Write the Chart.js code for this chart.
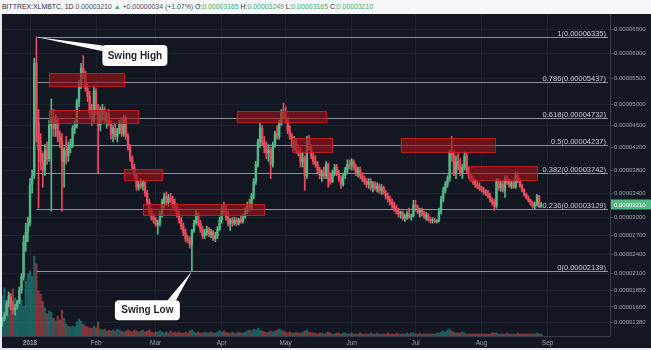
<!DOCTYPE html>
<html>
<head>
<meta charset="utf-8">
<script src="https://cdn.jsdelivr.net/npm/chart.js@4.4.1/dist/chart.umd.min.js"></script>
<style>
  html,body{margin:0;padding:0;background:#e6e9ee;}
  #wrap{position:relative;width:651px;height:350px;overflow:hidden;}
  #hdr{position:absolute;left:0;top:0;width:651px;height:14px;background:#f4f6f9;
       font:6.9px "Liberation Sans",Arial,sans-serif;line-height:14px;color:#50535e;
       padding-left:2px;box-sizing:border-box;white-space:nowrap;}
  #hdr .g{color:#3cb46a;}
  #hdr .k{color:#2a2e39;}
  canvas{position:absolute;left:0;top:0;}
</style>
</head>
<body>
<div id="wrap">
  <canvas id="c" width="651" height="350"></canvas>
  <div id="hdr"><span class="k">BITTREX:XLMBTC, 1D</span> 0.00003210 <span class="g">▲</span> +0.00000034 (+1.07%) <span class="k">O:</span><span class="g">0.00003165</span> <span class="k">H:</span><span class="g">0.00003249</span> <span class="k">L:</span><span class="g">0.00003165</span> <span class="k">C:</span><span class="g">0.00003210</span></div>
</div>
<script>
// ---------- DATA (prices in satoshi, i.e. units of 0.00000001 BTC) ----------
const START_DATE = '2017-12-19';   // first daily candle
const opens = [
  1380,1420,1490,1650,1760,1620,1560,1600,1680,1850,
  2050,2600,2750,2900,3550,3700,5800,4650,4150,3950,
  3800,4150,4000,4600,4750,4550,4700,4400,4300,3950,
  4150,4050,4200,4250,4550,4600,5050,5400,5700,5600,
  5300,5150,4850,4700,5250,4900,4600,4850,4900,4700,
  4800,4650,4450,4550,4400,4500,4650,4450,4750,4400,
  4200,4000,3850,3700,3500,3550,3520,3580,3400,3250,
  3100,3000,2950,2880,2900,3050,3250,3350,3250,3320,
  3300,3200,3150,3050,2950,2850,2750,2650,2620,2560,
  2780,2900,3050,2900,2800,2700,2750,2800,2720,2760,
  2650,2700,2800,2950,3150,3100,3000,2900,2950,2900,
  2950,2900,2960,2930,3000,3100,3200,3150,3350,3600,
  3900,4300,4550,4300,4200,4100,4150,3900,4250,4450,
  4400,4650,4850,4800,4700,4500,4400,4250,4300,4150,
  4100,3950,4000,3700,4300,4200,4050,3950,3900,3800,
  3700,3750,3700,3900,3650,3600,3750,3850,3750,3650,
  3550,3700,3800,3900,3880,3950,3850,3750,3800,3700,
  3650,3600,3550,3600,3500,3550,3480,3520,3450,3500,
  3400,3350,3300,3250,3200,3150,3100,3050,3080,2980,
  3000,3050,3000,3020,3200,3150,3080,3120,3050,3000,
  3030,2960,2940,2950,2930,2940,3100,3300,3450,3550,
  3650,4100,4050,3750,3950,3850,3750,3850,4050,3800,
  3700,3650,3600,3550,3520,3480,3450,3420,3400,3350,
  3280,3250,3180,3600,3500,3550,3450,3650,3600,3520,
  3580,3500,3700,3620,3520,3450,3380,3320,3280,3230,
  3180,3200,3350,3165
];
const highs = [
  1450,1520,1700,1820,1800,1680,1640,1700,1900,2100,
  2700,2900,3000,3650,3800,5900,6335,4900,4450,4100,
  4250,4300,4700,5100,4900,4800,4750,4500,4450,4200,
  4400,4300,4350,4600,4700,5100,5450,5800,5950,5650,
  5400,5250,5000,5350,5300,5000,4950,5000,4950,4850,
  4900,4700,4600,4650,4550,4700,4750,4800,4780,4450,
  4250,4050,3900,3750,3600,3650,3620,3600,3450,3300,
  3150,3050,3000,2950,3100,3300,3400,3420,3380,3400,
  3350,3300,3220,3100,3000,2900,2800,2700,2680,2800,
  2950,3120,3080,2950,2850,2800,2850,2830,2800,2780,
  2750,2850,3000,3200,3250,3200,3100,2980,3000,3000,
  2990,2980,3020,3050,3150,3250,3300,3400,3650,3950,
  4350,4650,4600,4400,4300,4250,4200,4300,4500,4600,
  4700,4900,5020,4950,4750,4600,4450,4400,4350,4250,
  4200,4100,4050,4400,4420,4250,4100,4050,3950,3850,
  3800,3850,3950,3920,3750,3800,3900,3900,3800,3700,
  3750,3850,3980,3980,4000,3980,3900,3850,3850,3750,
  3700,3650,3650,3650,3600,3600,3580,3560,3550,3520,
  3450,3400,3350,3300,3250,3200,3150,3100,3100,3050,
  3100,3150,3050,3280,3280,3200,3150,3150,3100,3080,
  3060,3000,2990,2980,2960,3150,3350,3500,3600,3700,
  4150,4400,4150,4050,4100,4000,3900,4120,4100,3850,
  3750,3700,3650,3600,3580,3520,3500,3460,3450,3400,
  3320,3300,3650,3650,3600,3600,3700,3700,3650,3600,
  3620,3760,3760,3650,3560,3480,3400,3350,3300,3260,
  3250,3380,3360,3249
];
const lows = [
  1320,1400,1470,1600,1560,1500,1480,1570,1650,1800,
  2000,2450,2600,2850,3400,3650,4300,3150,3800,3500,
  3700,3900,3950,3100,4400,4400,4300,4200,3100,3500,
  3900,3950,4100,4200,4450,4550,4950,5300,5500,5250,
  5050,4750,4600,4650,4800,3750,4500,4700,4650,4550,
  4600,4350,4300,4350,4300,4450,4400,4400,4350,4150,
  3950,3800,3650,3450,3450,3480,3450,3350,3200,3050,
  2950,2900,2850,2720,2850,3000,3150,3200,3180,3250,
  3150,3100,3000,2900,2800,2700,2600,2580,2500,2139,
  2750,2880,2850,2750,2650,2650,2700,2680,2660,2620,
  2600,2650,2780,2900,3050,2950,2850,2780,2850,2870,
  2860,2870,2900,2900,2980,3050,3100,3120,3300,3550,
  3850,4200,4250,4100,4000,3950,3650,3850,4200,4350,
  4350,4600,4750,4650,4450,4350,4200,4150,4100,4050,
  3850,3850,3450,3650,4150,4000,3900,3850,3750,3650,
  3600,3650,3650,3500,3550,3580,3700,3700,3600,3480,
  3520,3650,3750,3820,3800,3800,3700,3680,3650,3600,
  3550,3500,3480,3450,3420,3450,3420,3400,3380,3380,
  3300,3250,3200,3150,3100,3050,3000,2980,2950,2930,
  2960,2980,2950,3000,3100,3050,3000,3020,2980,2950,
  2930,2900,2900,2910,2900,2920,3050,3250,3400,3500,
  3600,3950,3700,3650,3800,3700,3650,3800,3750,3650,
  3600,3550,3500,3480,3450,3420,3380,3360,3320,3250,
  3200,3110,3150,3450,3430,3420,3330,3550,3500,3480,
  3480,3480,3580,3500,3420,3350,3300,3250,3200,3150,
  3140,3180,3160,3165
];
const closes = [
  1420,1490,1650,1760,1620,1560,1600,1680,1850,2050,
  2600,2750,2900,3550,3700,5800,4650,4150,3950,3800,
  4150,4000,4600,4750,4550,4700,4400,4300,3950,4150,
  4050,4200,4250,4550,4600,5050,5400,5700,5600,5300,
  5150,4850,4700,5250,4900,4600,4850,4900,4700,4800,
  4650,4450,4550,4400,4500,4650,4450,4750,4400,4200,
  4000,3850,3700,3500,3550,3520,3580,3400,3250,3100,
  3000,2950,2880,2900,3050,3250,3350,3250,3320,3300,
  3200,3150,3050,2950,2850,2750,2650,2620,2560,2780,
  2900,3050,2900,2800,2700,2750,2800,2720,2760,2650,
  2700,2800,2950,3150,3100,3000,2900,2950,2900,2950,
  2900,2960,2930,3000,3100,3200,3150,3350,3600,3900,
  4300,4550,4300,4200,4100,4150,3900,4250,4450,4400,
  4650,4850,4800,4700,4500,4400,4250,4300,4150,4100,
  3950,4000,3700,4300,4200,4050,3950,3900,3800,3700,
  3750,3700,3900,3650,3600,3750,3850,3750,3650,3550,
  3700,3800,3900,3880,3950,3850,3750,3800,3700,3650,
  3600,3550,3600,3500,3550,3480,3520,3450,3500,3400,
  3350,3300,3250,3200,3150,3100,3050,3080,2980,3000,
  3050,3000,3020,3200,3150,3080,3120,3050,3000,3030,
  2960,2940,2950,2930,2940,3100,3300,3450,3550,3650,
  4100,4050,3750,3950,3850,3750,3850,4050,3800,3700,
  3650,3600,3550,3520,3480,3450,3420,3400,3350,3280,
  3250,3180,3600,3500,3550,3450,3650,3600,3520,3580,
  3500,3700,3620,3520,3450,3380,3320,3280,3230,3180,
  3200,3350,3165,3210
];
const volumes = [   // relative daily volume
  40,48,35,44,30,47,38,32,45,36,
  30,55,62,65,60,80,72,45,42,35,
  28,22,25,24,18,15,20,16,26,18,
  12,10,9,10,9,14,17,15,12,10,
  9,8,8,10,8,14,7,6,7,5,
  6,5,6,5,7,6,5,4,5,6,
  5,4,6,5,4,5,6,4,5,6,
  4,3,4,4,5,4,3,4,3,5,
  3,4,3,4,3,3,4,3,5,6,
  4,3,4,3,3,4,3,3,4,3,
  3,4,5,4,5,4,3,3,4,3,
  3,4,3,3,4,5,6,5,7,6,
  8,6,5,4,3,4,5,4,5,6,
  7,6,5,4,3,4,3,3,4,3,
  3,4,5,6,4,3,3,3,2,3,
  3,2,3,4,3,2,2,3,3,2,
  3,3,2,2,3,2,2,2,3,2,
  2,2,2,3,2,2,3,2,2,2,
  2,3,2,2,2,3,2,2,2,2,
  3,2,3,3,2,2,3,2,2,2,
  2,2,2,2,3,3,4,5,4,6,
  7,5,4,3,3,3,4,3,2,2,
  2,2,2,2,2,2,2,2,2,2,
  3,3,3,2,2,2,2,3,2,2,
  2,2,3,2,2,2,2,2,2,2,
  2,3,2,2
];
const MONTH_DATES  = ['2018-01-01','2018-02-01','2018-03-01','2018-04-01','2018-05-01','2018-06-01','2018-07-01','2018-08-01','2018-09-01'];
const MONTH_LABELS = ['2018','Feb','Mar','Apr','May','Jun','Jul','Aug','Sep'];
const PRICE_TICKS  = [6500,6000,5500,5000,4600,4200,3800,3400,3000,2700,2400,2100,1850,1600,1380];
const FIB_RATIOS   = ['1','0.786','0.618','0.5','0.382','0.236','0'];
const FIB_PRICES   = [6335,5437,4732,4237,3742,3129,2139];
const SWING_HIGH_DATE = '2018-01-04';
const SWING_LOW_DATE  = '2018-03-18';
const ZONE_START = ['2018-01-10','2018-01-10','2018-02-14','2018-02-23','2018-04-08','2018-05-04','2018-06-24','2018-07-26'];
const ZONE_END   = ['2018-02-14','2018-02-21','2018-03-04','2018-04-21','2018-05-20','2018-05-23','2018-08-07','2018-08-27'];
const ZONE_LOW   = [5350,4645,3620,3030,4670,4115,4115,3620];
const ZONE_HIGH  = [5600,4890,3815,3215,4870,4370,4370,3866];
const LAST_PRICE = 3210;

// ---------- helpers ----------
const DAY_MS = 86400000;
const dayOf = s => Math.round((Date.parse(s) - Date.parse('2018-01-01')) / DAY_MS);
const day0 = dayOf(START_DATE);
const sat = v => (v / 1e8).toFixed(8);

const UP = '#53b987', DOWN = '#eb4d5c';
const UP_VOL = 'rgba(38,166,154,0.5)', DOWN_VOL = 'rgba(239,83,80,0.5)';
const isUp = i => closes[i] >= opens[i];

// price axis: TradingView-like compressed scale
const SHIFT = 10000;
class ShiftLogScale extends Chart.LinearScale {
  static id = 'shiftlog';
  static defaults = Chart.LinearScale.defaults;
  configure() {
    super.configure();
    this._la = Math.log(this.min + SHIFT);
    this._lb = Math.log(this.max + SHIFT);
  }
  getPixelForValue(v) {
    return this.getPixelForDecimal((Math.log(v + SHIFT) - this._la) / (this._lb - this._la));
  }
  getValueForPixel(p) {
    return Math.exp(this._la + this.getDecimalForPixel(p) * (this._lb - this._la)) - SHIFT;
  }
}
Chart.register(ShiftLogScale);

const wickData = [], bodyData = [], volData = [], bodyCol = [], volCol = [];
closes.forEach((c, i) => {
  const x = day0 + i;
  wickData.push({x, y: [lows[i], highs[i]]});
  bodyData.push({x, y: [opens[i], closes[i]]});
  volData.push({x, y: volumes[i]});
  bodyCol.push(isUp(i) ? UP : DOWN);
  volCol.push(isUp(i) ? UP_VOL : DOWN_VOL);
});

function roundRect(ctx, x, y, w, h, r) {
  ctx.beginPath();
  ctx.moveTo(x + r, y); ctx.lineTo(x + w - r, y); ctx.quadraticCurveTo(x + w, y, x + w, y + r);
  ctx.lineTo(x + w, y + h - r); ctx.quadraticCurveTo(x + w, y + h, x + w - r, y + h);
  ctx.lineTo(x + r, y + h); ctx.quadraticCurveTo(x, y + h, x, y + h - r);
  ctx.lineTo(x, y + r); ctx.quadraticCurveTo(x, y, x + r, y); ctx.closePath();
}

const overlay = {
  id: 'overlay',
  beforeDraw(chart) {
    const {ctx, width, height} = chart;
    ctx.save();
    ctx.fillStyle = '#e6e9ee'; ctx.fillRect(0, 0, width, height);
    ctx.fillStyle = '#131722'; ctx.fillRect(2, 14, width - 2, height - 16);
    ctx.restore();
  },
  beforeDatasetsDraw(chart) {
    const {ctx, chartArea, scales: {x, y}} = chart;
    const x0 = x.getPixelForValue(dayOf(SWING_HIGH_DATE));
    ctx.save();
    ctx.strokeStyle = 'rgba(165,168,178,0.85)'; ctx.lineWidth = 1;
    FIB_PRICES.forEach(p => {
      const py = Math.round(y.getPixelForValue(p)) + 0.5;
      ctx.beginPath(); ctx.moveTo(x0, py); ctx.lineTo(chartArea.right - 2, py); ctx.stroke();
    });
    ctx.restore();
  },
  afterDatasetsDraw(chart) {
    const {ctx, scales: {x, y}} = chart;
    ctx.save();
    ZONE_START.forEach((s, i) => {
      const xa = x.getPixelForValue(dayOf(s)), xb = x.getPixelForValue(dayOf(ZONE_END[i]));
      const ya = y.getPixelForValue(ZONE_HIGH[i]), yb = y.getPixelForValue(ZONE_LOW[i]);
      ctx.fillStyle = 'rgba(160,18,24,0.62)';
      ctx.fillRect(xa, ya, xb - xa, yb - ya);
      ctx.strokeStyle = 'rgba(200,32,36,0.9)'; ctx.lineWidth = 1;
      ctx.strokeRect(Math.round(xa) + 0.5, Math.round(ya) + 0.5, Math.round(xb - xa), Math.round(yb - ya));
    });
    ctx.restore();
  },
  afterDraw(chart) {
    const {ctx, chartArea, scales: {x, y}} = chart;
    ctx.save();
    // fib labels
    ctx.font = '7.5px "Liberation Sans", Arial, sans-serif';
    ctx.fillStyle = '#c9ccd4'; ctx.textAlign = 'right'; ctx.textBaseline = 'alphabetic';
    FIB_PRICES.forEach((p, i) => {
      const py = Math.round(y.getPixelForValue(p));
      ctx.fillText(FIB_RATIOS[i] + '(' + sat(p) + ')', chartArea.right - 4, py - 1);
    });
    // callouts
    const callout = (tx, ty, bx, by, bw, bh, wedge, label) => {
      ctx.fillStyle = '#ffffff';
      ctx.beginPath(); ctx.moveTo(tx, ty);
      ctx.lineTo(wedge[0], wedge[1]); ctx.lineTo(wedge[2], wedge[3]); ctx.closePath(); ctx.fill();
      ctx.shadowColor = 'rgba(0,0,0,0.4)'; ctx.shadowBlur = 3;
      roundRect(ctx, bx, by, bw, bh, 4); ctx.fill();
      ctx.shadowBlur = 0;
      ctx.fillStyle = '#1e222d'; ctx.font = 'bold 10px "Liberation Sans", Arial, sans-serif';
      ctx.textAlign = 'center'; ctx.textBaseline = 'middle';
      ctx.fillText(label, bx + bw / 2, by + bh / 2 + 0.5);
    };
    const hx = x.getPixelForValue(dayOf(SWING_HIGH_DATE)), hy = y.getPixelForValue(highs[dayOf(SWING_HIGH_DATE) - day0]);
    callout(hx, hy, hx + 66, hy + 8, 65, 21, [hx + 70, hy + 9, hx + 70, hy + 15], 'Swing High');
    const lx = x.getPixelForValue(dayOf(SWING_LOW_DATE)), ly = y.getPixelForValue(lows[dayOf(SWING_LOW_DATE) - day0]);
    callout(lx, ly, lx - 77, ly + 29, 65, 20, [lx - 26, ly + 31, lx - 17, ly + 31], 'Swing Low');
    // last price badge
    const by = y.getPixelForValue(LAST_PRICE);
    ctx.fillStyle = UP; ctx.fillRect(chartArea.right + 1, by - 5, 40, 10);
    ctx.fillStyle = '#ffffff'; ctx.font = '6px "Liberation Sans", Arial, sans-serif';
    ctx.textAlign = 'left'; ctx.textBaseline = 'middle';
    ctx.fillText(sat(LAST_PRICE), chartArea.right + 4, by + 0.5);
    ctx.restore();
  }
};

new Chart(document.getElementById('c'), {
  type: 'bar',
  data: {
    datasets: [
      {label: 'Volume', data: volData, yAxisID: 'yv', backgroundColor: volCol, barThickness: 1.6, grouped: false, order: 3},
      {label: 'Wick', data: wickData, yAxisID: 'y', backgroundColor: bodyCol, barThickness: 1, grouped: false, order: 2},
      {label: 'Body', data: bodyData, yAxisID: 'y', backgroundColor: bodyCol, barThickness: 1.7, grouped: false, order: 1}
    ]
  },
  options: {
    responsive: false,
    animation: false,
    devicePixelRatio: 1,
    layout: {padding: {left: 2, top: 14, bottom: 2, right: 0}},
    plugins: {legend: {display: false}, tooltip: {enabled: false}},
    scales: {
      x: {
        type: 'linear', min: -13.15, max: 272.3, offset: false,
        afterBuildTicks: s => { s.ticks = MONTH_DATES.map(d => ({value: dayOf(d)})); },
        afterFit: s => { s.height = 12; },
        grid: {color: '#1d2230', offset: false, drawTicks: false, tickLength: 0},
        border: {color: '#3a3e4a'},
        ticks: {
          autoSkip: false, maxRotation: 0, padding: 3, color: '#9da0a8',
          font: ctx => ({size: 6.5, family: '"Liberation Sans", Arial, sans-serif', weight: ctx.index === 0 ? 'bold' : 'normal'}),
          callback: (v) => { const k = MONTH_DATES.findIndex(d => dayOf(d) === v); return k >= 0 ? MONTH_LABELS[k] : ''; }
        }
      },
      y: {
        type: 'shiftlog', position: 'right', min: 1181, max: 6818,
        afterBuildTicks: s => { s.ticks = PRICE_TICKS.map(v => ({value: v})); },
        afterFit: s => { s.width = 41; },
        grid: {color: '#1d2230', tickColor: '#4a4e5a', tickLength: 3},
        border: {color: '#3a3e4a'},
        ticks: {
          padding: 1, color: '#a3a6af',
          font: {size: 6, family: '"Liberation Sans", Arial, sans-serif'},
          callback: v => sat(v)
        }
      },
      yv: {type: 'linear', display: false, min: 0, max: 322}
    }
  },
  plugins: [overlay]
});
</script>
</body>
</html>
